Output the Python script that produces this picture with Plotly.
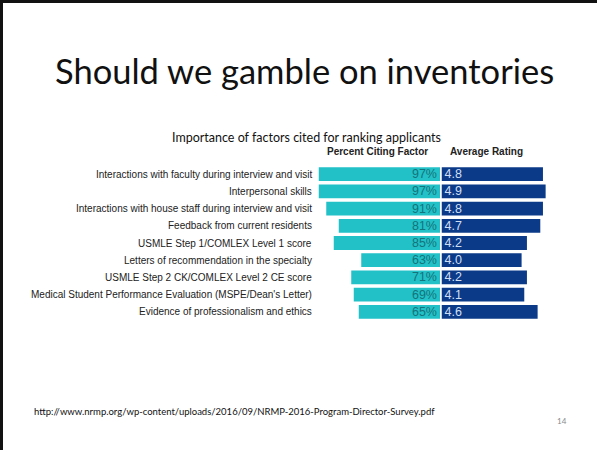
import plotly.graph_objects as go

# Survey data: factors cited for ranking applicants
factors = [
    "Interactions with faculty during interview and visit",
    "Interpersonal skills",
    "Interactions with house staff during interview and visit",
    "Feedback from current residents",
    "USMLE Step 1/COMLEX Level 1 score",
    "Letters of recommendation in the specialty",
    "USMLE Step 2 CK/COMLEX Level 2 CE score",
    "Medical Student Performance Evaluation (MSPE/Dean's Letter)",
    "Evidence of professionalism and ethics",
]
percent_citing = [97, 97, 91, 81, 85, 63, 71, 69, 65]
average_rating = [4.8, 4.9, 4.8, 4.7, 4.2, 4.0, 4.2, 4.1, 4.6]
rating_floor = 1  # rating scale starts at 1

W, H = 597, 450
TEAL = "#22c1c7"
NAVY = "#0b3a88"
LABEL_FONT = "Liberation Sans, Arial, sans-serif"
SLIDE_FONT = "Lato, Open Sans, sans-serif"


def px(x):
    return x / W


def py(y):
    return 1 - y / H


y_top, y_bot = py(165.5), py(320.5)

fig = go.Figure()

fig.add_trace(go.Bar(
    y=factors, x=percent_citing, orientation="h",
    marker=dict(color=TEAL, line=dict(width=0)),
    text=[f"{v}%" for v in percent_citing],
    textposition="inside", insidetextanchor="start", constraintext="none",
    textfont=dict(family=LABEL_FONT, size=12.5, color="#15737b"),
    xaxis="x", yaxis="y", width=0.8, showlegend=False,
))

fig.add_trace(go.Bar(
    y=factors, x=[v - rating_floor for v in average_rating], base=rating_floor,
    orientation="h",
    marker=dict(color=NAVY, line=dict(width=0)),
    text=[f"{v:.1f}" for v in average_rating],
    textposition="inside", insidetextanchor="start", constraintext="none",
    textfont=dict(family=LABEL_FONT, size=12.5, color="#cfdff3"),
    xaxis="x2", yaxis="y2", width=0.8, showlegend=False,
))

yaxis_common = dict(
    categoryorder="array", categoryarray=factors,
    range=[len(factors) - 0.5, -0.5],
    domain=[y_bot, y_top], showticklabels=False, showgrid=False,
    zeroline=False, showline=False, ticks="",
)

fig.update_layout(
    width=W, height=H,
    margin=dict(l=0, r=0, t=0, b=0),
    paper_bgcolor="white", plot_bgcolor="rgba(0,0,0,0)",
    bargap=0.2,
    xaxis=dict(domain=[px(316), px(440)], range=[99.2, 0], visible=False),
    xaxis2=dict(domain=[px(441.5), px(580)], range=[rating_floor, rating_floor + (580 - 441.5) / 26.7],
                visible=False),
    yaxis=dict(anchor="x", **yaxis_common),
    yaxis2=dict(anchor="x2", **yaxis_common),
)

# Factor labels, right-aligned next to the bars
for f in factors:
    fig.add_annotation(
        x=px(314), y=f, xref="paper", yref="y", text=f, showarrow=False,
        xanchor="right", yanchor="middle",
        font=dict(family=LABEL_FONT, size=10, color="#222222"),
    )


def slide_text(x, y, text, size, color="#111111", family=SLIDE_FONT, xanchor="center"):
    fig.add_annotation(x=px(x), y=py(y), xref="paper", yref="paper", text=text,
                       showarrow=False, xanchor=xanchor, yanchor="middle",
                       font=dict(family=family, size=size, color=color))


# Column headers
slide_text(377, 151, "<b>Percent Citing Factor</b>", 10, "#222222", LABEL_FONT)
slide_text(486, 151, "<b>Average Rating</b>", 10, "#222222", LABEL_FONT)

# Slide title and subtitle
slide_text(304, 70, "Should we gamble on inventories", 34.5)
slide_text(306, 137, "Importance of factors cited for ranking applicants", 12.5)

# Source and slide number
slide_text(32, 411, "http://www.nrmp.org/wp-content/uploads/2016/09/NRMP-2016-Program-Director-Survey.pdf",
           9.5, xanchor="left")
slide_text(562, 421, "14", 8, "#8a8a8a")

# Slide frame: top and left edges
fig.add_shape(type="line", xref="paper", yref="paper", x0=0, x1=1, y0=py(1.5), y1=py(1.5),
              line=dict(color="#111111", width=3))
fig.add_shape(type="line", xref="paper", yref="paper", x0=px(1.5), x1=px(1.5), y0=0, y1=1,
              line=dict(color="#111111", width=3))

fig.write_html("out.html")
